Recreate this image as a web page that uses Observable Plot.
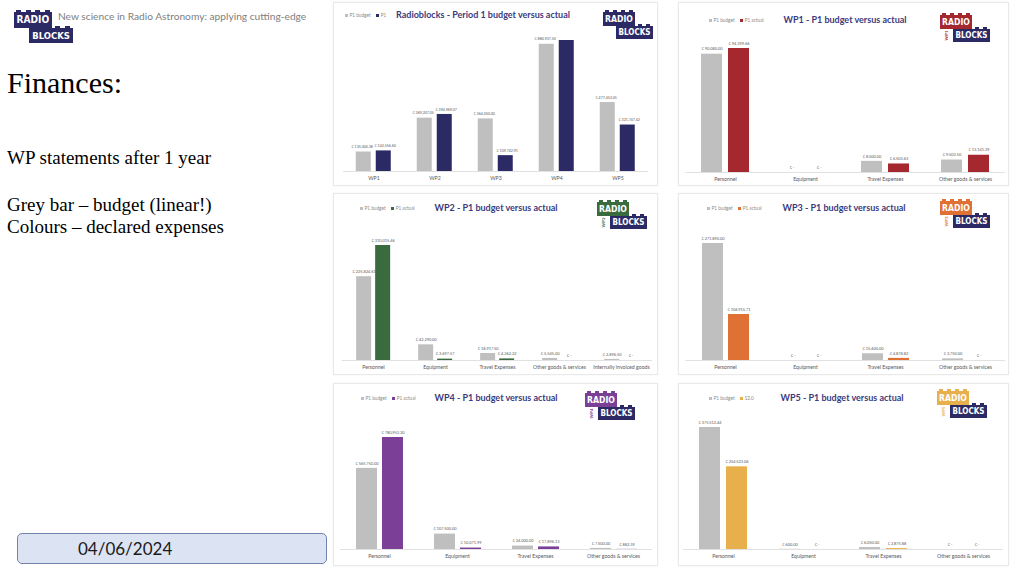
<!DOCTYPE html>
<html><head><meta charset="utf-8">
<script src="https://cdn.jsdelivr.net/npm/d3@7"></script>
<script src="https://cdn.jsdelivr.net/npm/@observablehq/plot@0.6"></script>
<style>
body{margin:0;width:1024px;height:576px;position:relative;overflow:hidden;background:#fff;font-family:Lato,sans-serif;}
.a{position:absolute;white-space:nowrap;}
.panel{position:absolute;border:1px solid #e9e9e9;background:#fff;box-sizing:border-box;box-shadow:0 0 2px rgba(0,0,0,0.06);}
.serif{font-family:"Liberation Serif","Times New Roman",serif;color:#000;line-height:1;}
.brick{position:absolute;color:#fff;font-family:"DejaVu Sans Condensed","DejaVu Sans",sans-serif;font-weight:bold;text-align:center;display:flex;align-items:center;justify-content:center;}
.stud{position:absolute;}
.title{position:absolute;text-align:center;font-weight:bold;color:#3b3a7d;white-space:nowrap;}
.legend{position:absolute;white-space:nowrap;color:#8c8c8c;font-size:4.7px;display:flex;align-items:center;gap:1.5px;}
.legend .sw{display:inline-block;width:3px;height:3px;}
</style></head><body>
<script>
// ---------- data ----------
const wpCategories = ["WP1", "WP2", "WP3", "WP4", "WP5"];
const wpBudget = [135004.38, 369207.05, 364050.00, 880937.50, 477453.05];
const wpActual = [142556.60, 394969.07, 109742.91, 907000.00, 321747.42];
const wpActualHiddenLabels = ["WP4"];

const costCategories = ["Personnel", "Equipment", "Travel Expenses", "Other goods & services"];
const costCategoriesWP2 = ["Personnel", "Equipment", "Travel Expenses", "Other goods & services", "Internally invoiced goods"];

const wp1Budget = [90080.00, 0, 8500.00, 9503.50];
const wp1Actual = [94399.66, 0, 6503.63, 13141.39];
const wp2Budget = [225824.61, 42290.00, 18917.50, 5545.00, 2896.50];
const wp2Actual = [310015.46, 3697.57, 4262.22, 0, 0];
const wp3Budget = [271890.00, 0, 15600.00, 3750.00];
const wp3Actual = [106915.71, 0, 4878.82, 0];
const wp4Budget = [565750.00, 107500.00, 24000.00, 7500.00];
const wp4Actual = [780953.30, 10071.99, 17896.13, 882.39];
const wp5Budget = [375512.44, 600.00, 6050.00, 0];
const wp5Actual = [254523.06, 0, 2875.88, 0];

const seriesNames = ["budget", "actual"];
const greyBar = "#bfbfbf";
const navy = "#2b2a64";

const fmtNum = d3.format(",.2f");
const euro = v => v === 0 ? "€ -" : "€ " + fmtNum(v);

// ---------- helpers ----------
function el(tag, cls, css, text) {
  const e = document.createElement(tag);
  if (cls) e.className = cls;
  if (css) Object.assign(e.style, css);
  if (text != null) e.textContent = text;
  document.body.appendChild(e);
  return e;
}

function logo(x, y, color, wp, s) {
  s = s || 1;
  const studW = 4.2 * s, studH = 2 * s;
  for (let i = 0; i < 4; i++) el("div", "stud", {left: (x + (2 + i * 8) * s) + "px", top: (y - studH) + "px", width: studW + "px", height: studH + "px", background: color});
  for (let i = 0; i < 2; i++) el("div", "stud", {left: (x + (35 + i * 8) * s) + "px", top: (y + 13.5 * s - studH) + "px", width: studW + "px", height: studH + "px", background: navy});
  el("div", "brick", {left: x + "px", top: y + "px", width: 32 * s + "px", height: 13.5 * s + "px", background: color, fontSize: 8.6 * s + "px"}, "RADIO");
  el("div", "brick", {left: (x + 13 * s) + "px", top: (y + 13.5 * s) + "px", width: 37 * s + "px", height: 13 * s + "px", background: navy, fontSize: 8 * s + "px"}, "BLOCKS");
  if (wp) el("div", "a", {left: (x + 6 * s - 7) + "px", top: (y + 20 * s - 2.5) + "px", width: "14px", height: "5px", fontSize: 4.4 * s + "px", fontWeight: "bold", color: color, transform: "rotate(-90deg)", transformOrigin: "50% 50%", textAlign: "center", lineHeight: "5px", fontFamily: "Lato,sans-serif"}, wp);
}

function chart(cfg) {
  el("div", "panel", {left: cfg.x + "px", top: cfg.y + "px", width: cfg.w + "px", height: cfg.h + "px"});
  const n = cfg.cats.length;
  const data = cfg.cats.flatMap((c, i) => [
    {cat: c, series: "budget", value: cfg.budget[i], label: euro(cfg.budget[i]), hide: false},
    {cat: c, series: "actual", value: cfg.actual[i], label: euro(cfg.actual[i]), hide: (cfg.hidden || []).includes(c)}
  ]);
  const L = cfg.c1 - cfg.step / 2 - cfg.x;
  const R = cfg.w - (cfg.c1 + cfg.step * (n - 1) + cfg.step / 2 - cfg.x);
  const stepX = cfg.barW + cfg.gap;
  const pi = cfg.gap / stepX;
  const po = (cfg.step - 2 * cfg.barW - cfg.gap) / (2 * stepX);
  const lf = cfg.labelSize || 3.9, sep = cfg.labelSep || 0;
  const svg = Plot.plot({
    width: cfg.w, height: cfg.h,
    marginTop: cfg.maxTop - cfg.y,
    marginBottom: cfg.y + cfg.h - cfg.baseline,
    marginLeft: L, marginRight: R,
    style: {fontFamily: "Lato,sans-serif", fontSize: "5.2px", color: "#595959", background: "transparent", overflow: "visible"},
    fx: {domain: cfg.cats, padding: 0, axis: "bottom", label: null, tickSize: 0, tickPadding: 5},
    x: {domain: seriesNames, paddingInner: pi, paddingOuter: po, axis: null},
    y: {domain: [0, d3.max(data, d => d.value)], axis: null},
    color: {domain: seriesNames, range: [greyBar, cfg.color]},
    marks: [
      Plot.ruleY([0], {stroke: "#d9d9d9", strokeWidth: 0.8}),
      Plot.barY(data, {fx: "cat", x: "series", y: "value", fill: "series"}),
      Plot.text(data.filter(d => !d.hide && d.series === "budget"), {fx: "cat", x: "series", y: "value", text: "label", dy: -5, dx: -sep, fontSize: lf, fill: "#595959"}),
      Plot.text(data.filter(d => !d.hide && d.series === "actual"), {fx: "cat", x: "series", y: "value", text: "label", dy: -5, dx: sep, fontSize: lf, fill: "#595959"})
    ]
  });
  const wrap = el("div", null, {position: "absolute", left: cfg.x + "px", top: cfg.y + "px", width: cfg.w + "px", height: cfg.h + "px"});
  wrap.appendChild(svg);
  el("div", "title", {left: (cfg.titleX - 150) + "px", width: "300px", top: (cfg.titleY - 6) + "px", fontSize: cfg.titleSize + "px", lineHeight: "12px"}, cfg.title);
  const lg = el("div", "legend", {left: cfg.legendX + "px", top: (cfg.titleY - 3) + "px", height: "6px"});
  [[greyBar, cfg.legend[0]], [cfg.color, cfg.legend[1]]].forEach(([c, t], i) => {
    const sw = document.createElement("span"); sw.className = "sw"; sw.style.background = c; lg.appendChild(sw);
    const tx = document.createElement("span"); tx.textContent = t; tx.style.marginRight = "4px"; lg.appendChild(tx);
  });
  logo(cfg.logoX, cfg.logoY, cfg.logoColor || cfg.color, cfg.wp);
}

// ---------- left side of slide ----------
logo(14, 12, navy, null, 1.18);
el("div", "a", {left: "58px", top: "10px", fontSize: "10.2px", color: "#808080"}, "New science in Radio Astronomy: applying cutting-edge");
el("div", "a serif", {left: "7px", top: "68px", fontSize: "30px"}, "Finances:");
el("div", "a serif", {left: "7px", top: "148px", fontSize: "19px"}, "WP statements after 1 year");
el("div", "a serif", {left: "7px", top: "195px", fontSize: "19px"}, "Grey bar – budget (linear!)");
el("div", "a serif", {left: "7px", top: "217px", fontSize: "19px"}, "Colours – declared expenses");
el("div", null, {position: "absolute", left: "17px", top: "533px", width: "310px", height: "31px", background: "#dce3f3", border: "1px solid #7283ad", borderRadius: "5px", boxSizing: "border-box"});
el("div", "a", {left: "78px", top: "538px", fontSize: "17px", color: "#1a1a1a", lineHeight: "22px"}, "04/06/2024");

// ---------- charts ----------
chart({x: 333, y: 2, w: 325, h: 184, baseline: 171, maxTop: 40, c1: 372, step: 61.5, barW: 16, gap: 5,
  cats: wpCategories, budget: wpBudget, actual: wpActual, hidden: wpActualHiddenLabels, color: navy,
  labelSize: 3.6, labelSep: 1.5,
  title: "Radioblocks - Period 1 budget versus actual", titleX: 483, titleY: 15, titleSize: 9,
  legendX: 345, legend: ["P1 budget", "P1"], logoX: 603, logoY: 12, wp: null});

chart({x: 678, y: 2, w: 331, h: 184, baseline: 172, maxTop: 48, c1: 725, step: 80, barW: 21, gap: 6,
  cats: costCategories, budget: wp1Budget, actual: wp1Actual, color: "#a4282e",
  title: "WP1 - P1 budget versus actual", titleX: 845, titleY: 20, titleSize: 9,
  legendX: 709, legend: ["P1 budget", "P1 actual"], logoX: 940, logoY: 15, wp: "WP1"});

chart({x: 333, y: 193, w: 325, h: 182, baseline: 360, maxTop: 245, c1: 372, step: 62.3, barW: 16, gap: 4,
  cats: costCategoriesWP2, budget: wp2Budget, actual: wp2Actual, color: "#3a6b3f",
  title: "WP2 - P1 budget versus actual", titleX: 496, titleY: 208, titleSize: 9,
  legendX: 360, legend: ["P1 budget", "P1 actual"], logoX: 597, logoY: 202, wp: "WP2"});

chart({x: 678, y: 193, w: 331, h: 182, baseline: 360, maxTop: 243, c1: 725, step: 80, barW: 21, gap: 5,
  cats: costCategories, budget: wp3Budget, actual: wp3Actual, color: "#e07135",
  title: "WP3 - P1 budget versus actual", titleX: 844, titleY: 208, titleSize: 9,
  legendX: 707, legend: ["P1 budget", "P1 actual"], logoX: 940, logoY: 201, wp: "WP3"});

chart({x: 333, y: 383, w: 325, h: 183, baseline: 549, maxTop: 437, c1: 379, step: 78, barW: 21, gap: 5,
  cats: costCategories, budget: wp4Budget, actual: wp4Actual, color: "#7b3f98",
  title: "WP4 - P1 budget versus actual", titleX: 496, titleY: 398, titleSize: 9,
  legendX: 361, legend: ["P1 budget", "P1 actual"], logoX: 585, logoY: 393, wp: "WP4"});

chart({x: 678, y: 383, w: 331, h: 183, baseline: 549, maxTop: 427, c1: 723, step: 80, barW: 21, gap: 6,
  cats: costCategories, budget: wp5Budget, actual: wp5Actual, color: "#e8b04c",
  title: "WP5 - P1 budget versus actual", titleX: 842, titleY: 398, titleSize: 9,
  legendX: 709, legend: ["P1 budget", "S2.0"], logoX: 937, logoY: 391, wp: "WP5"});
</script>
</body></html>
